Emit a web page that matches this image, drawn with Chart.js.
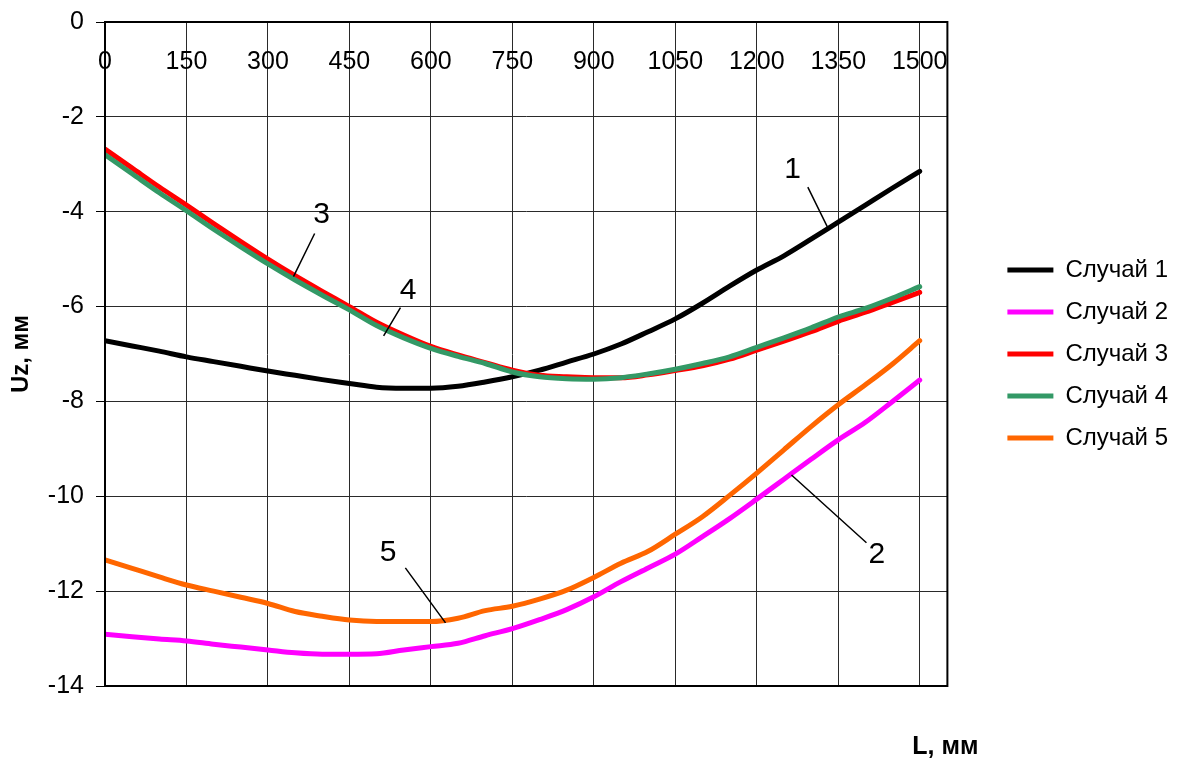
<!DOCTYPE html>
<html>
<head>
<meta charset="utf-8">
<script src="https://cdn.jsdelivr.net/npm/chart.js@4"></script>
<style>
  body { margin: 0; background: #fff; }
  #wrap { width: 1179px; height: 762px; }
</style>
</head>
<body>
<div id="wrap"><canvas id="chart"></canvas></div>
<script>
// L, mm
const lengths = [0, 50, 100, 150, 200, 250, 300, 350, 400, 450, 500, 550, 600, 650, 700, 750,
  800, 850, 900, 950, 1000, 1050, 1100, 1150, 1200, 1250, 1300, 1350, 1400, 1450, 1500];

// Uz, mm
const case1 = [-6.72, -6.83, -6.94, -7.06, -7.16, -7.26, -7.36, -7.45, -7.54, -7.62, -7.70, -7.72, -7.72, -7.68, -7.59, -7.48,
  -7.34, -7.17, -7.00, -6.79, -6.53, -6.26, -5.93, -5.57, -5.23, -4.93, -4.58, -4.22, -3.86, -3.50, -3.15];
const case2 = [-12.91, -12.96, -13.01, -13.05, -13.12, -13.18, -13.24, -13.30, -13.33, -13.33, -13.32, -13.24, -13.17, -13.10, -12.94, -12.79,
  -12.60, -12.39, -12.12, -11.80, -11.51, -11.22, -10.85, -10.47, -10.06, -9.64, -9.22, -8.81, -8.44, -8.00, -7.55];
const case3 = [-2.68, -3.08, -3.48, -3.86, -4.25, -4.63, -5.00, -5.35, -5.68, -6.00, -6.33, -6.60, -6.84, -7.02, -7.18, -7.34,
  -7.45, -7.48, -7.50, -7.50, -7.44, -7.35, -7.25, -7.11, -6.92, -6.73, -6.53, -6.31, -6.12, -5.91, -5.70];
const case4 = [-2.80, -3.20, -3.60, -3.98, -4.37, -4.74, -5.10, -5.44, -5.76, -6.07, -6.40, -6.66, -6.88, -7.05, -7.20, -7.38,
  -7.48, -7.52, -7.53, -7.50, -7.42, -7.32, -7.20, -7.06, -6.86, -6.66, -6.45, -6.22, -6.04, -5.82, -5.58];
const case5 = [-11.34, -11.52, -11.70, -11.87, -12.00, -12.13, -12.26, -12.43, -12.53, -12.61, -12.64, -12.64, -12.64, -12.57, -12.41, -12.32,
  -12.17, -11.98, -11.71, -11.41, -11.16, -10.80, -10.43, -9.98, -9.51, -9.02, -8.53, -8.07, -7.65, -7.21, -6.72];

const seriesNames = ['Случай 1', 'Случай 2', 'Случай 3', 'Случай 4', 'Случай 5'];
const seriesColors = ['#000000', '#ff00ff', '#ff0000', '#339966', '#ff6600'];
const seriesValues = [case1, case2, case3, case4, case5];

const xTicks = [0, 150, 300, 450, 600, 750, 900, 1050, 1200, 1350, 1500];

// curve numbers with their leader lines (data units)
const calloutText = ['1', '2', '3', '4', '5'];
const calloutAt = [[1266, -3.12], [1421, -11.24], [399, -4.07], [558, -5.66], [521, -11.20]];
const leaderFrom = [[1294, -3.48], [1402, -10.98], [386, -4.46], [544, -6.02], [553, -11.51]];
const leaderTo = [[1330, -4.32], [1264, -9.55], [347, -5.37], [513, -6.62], [627, -12.67]];

Chart.defaults.font.family = "'Liberation Sans', Arial, sans-serif";
Chart.defaults.color = '#000';

const datasets = seriesValues.map((vals, i) => ({
  label: seriesNames[i],
  data: vals.map((v, j) => ({ x: lengths[j], y: v })),
  borderColor: seriesColors[i],
  backgroundColor: seriesColors[i],
  borderWidth: 5,
  borderCapStyle: 'round',
  borderJoinStyle: 'round',
  pointRadius: 0,
  cubicInterpolationMode: 'monotone',
  order: 5 - i
}));

const framePlugin = {
  id: 'frame',
  afterDraw(chart) {
    const { ctx, chartArea: a } = chart;
    ctx.save();
    ctx.strokeStyle = '#000';
    ctx.lineWidth = 2;
    ctx.strokeRect(a.left, a.top, a.right - a.left, a.bottom - a.top);
    // x axis title sits at the lower right corner
    ctx.font = "bold 25px 'Liberation Sans', Arial, sans-serif";
    ctx.fillStyle = '#000';
    ctx.textAlign = 'center';
    ctx.textBaseline = 'middle';
    ctx.fillText('L, мм', a.right - 2, a.bottom + 61);
    ctx.restore();
  }
};

const calloutPlugin = {
  id: 'callouts',
  afterDatasetsDraw(chart) {
    const { ctx, scales: { x, y } } = chart;
    ctx.save();
    ctx.strokeStyle = '#000';
    ctx.lineWidth = 1.5;
    ctx.beginPath();
    leaderFrom.forEach((p, i) => {
      ctx.moveTo(x.getPixelForValue(p[0]), y.getPixelForValue(p[1]));
      ctx.lineTo(x.getPixelForValue(leaderTo[i][0]), y.getPixelForValue(leaderTo[i][1]));
    });
    ctx.stroke();
    ctx.font = "30px 'Liberation Sans', Arial, sans-serif";
    ctx.fillStyle = '#000';
    ctx.textAlign = 'center';
    ctx.textBaseline = 'middle';
    calloutText.forEach((t, i) => {
      ctx.fillText(t, x.getPixelForValue(calloutAt[i][0]), y.getPixelForValue(calloutAt[i][1]));
    });
    ctx.restore();
  }
};

new Chart(document.getElementById('chart'), {
  type: 'line',
  data: { datasets },
  options: {
    responsive: true,
    maintainAspectRatio: false,
    animation: false,
    layout: { padding: { left: 0, top: 22, bottom: 76, right: 1 } },
    plugins: {
      legend: {
        position: 'right',
        fullSize: false,
        labels: {
          usePointStyle: true,
          pointStyle: 'line',
          pointStyleWidth: 46,
          padding: 18,
          color: '#000',
          font: { size: 24 },
          sort: (a, b) => a.datasetIndex - b.datasetIndex
        }
      },
      tooltip: { enabled: false }
    },
    scales: {
      x: {
        type: 'linear',
        position: 'top',
        min: 0,
        max: 1551,
        afterBuildTicks: s => { s.ticks = xTicks.map(v => ({ value: v })); },
        afterFit: s => { s.height = 0; },
        grid: { color: '#2a2a2a', lineWidth: 1, drawTicks: false },
        border: { color: '#000', width: 2 },
        ticks: {
          mirror: true,
          padding: 25,
          maxRotation: 0,
          autoSkip: false,
          font: { size: 25 },
          color: '#000',
          callback: v => String(v)
        }
      },
      y: {
        min: -14,
        max: 0,
        afterFit: s => { s.width = 105; s.paddingTop = 0; s.paddingBottom = 0; },
        grid: { color: '#2a2a2a', lineWidth: 1, tickLength: 9, tickColor: '#000' },
        border: { color: '#000', width: 2 },
        ticks: { stepSize: 2, padding: 12, font: { size: 25 }, color: '#000' },
        title: {
          display: true,
          text: 'Uz, мм',
          font: { size: 24, weight: 'bold' },
          padding: { top: 7, bottom: 0 },
          color: '#000'
        }
      },
      gap: {
        type: 'linear',
        position: 'right',
        afterFit: s => { s.width = 42; },
        grid: { display: false },
        border: { display: false },
        ticks: { display: false }
      }
    }
  },
  plugins: [framePlugin, calloutPlugin]
});
</script>
</body>
</html>
